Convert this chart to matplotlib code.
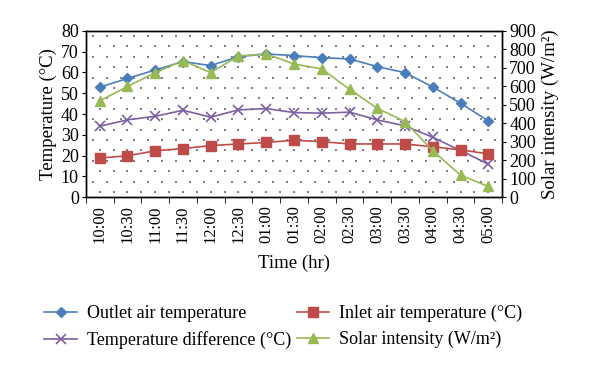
import matplotlib
matplotlib.use('Agg')
import matplotlib.pyplot as plt
import numpy as np

plt.rcParams['font.family'] = ['Liberation Serif', 'DejaVu Serif']

times = ['10:00', '10:30', '11:00', '11:30', '12:00', '12:30', '01:00', '01:30',
         '02:00', '02:30', '03:00', '03:30', '04:00', '04:30', '05:00']
outlet = [52.9, 57.1, 61.2, 65.2, 63.3, 67.6, 68.9, 68.1, 67.1, 66.5, 62.8, 59.9, 53.0, 45.2, 36.7]
inlet = [18.8, 19.9, 22.3, 23.4, 24.8, 25.6, 26.3, 27.4, 26.7, 25.6, 25.6, 25.6, 24.2, 22.8, 20.8]
difference = [34.1, 37.2, 38.9, 41.8, 38.5, 42.0, 42.6, 40.7, 40.4, 40.9, 37.2, 34.3, 28.8, 22.4, 15.9]
solar = [521, 599, 674, 739, 674, 764, 775, 721, 694, 584, 481, 409, 251, 119, 58]

fig = plt.figure(figsize=(6, 3.72), dpi=100)
ax = fig.add_axes([0.143, 0.470, 0.694, 0.447])
ax2 = ax.twinx()

# dotted pattern in the plot area (staggered rows)
n = len(times)
for i, yrow in enumerate(np.arange(2.5, 80, 5)):
    start = -0.5 if i % 2 == 0 else -0.25
    xs = np.arange(start, n - 0.5, 0.5)
    ax.scatter(xs, np.full(len(xs), yrow), s=1.2, color='#808080', marker='s',
               linewidths=0, zorder=0.5)

x = np.arange(n)
l1, = ax.plot(x, outlet, color='#4A7EBB', marker='D', markersize=5.5, lw=1.2,
              label='Outlet air temperature')
l3, = ax.plot(x, difference, color='#7D60A0', marker='x', markersize=7, mew=1.2, lw=1.2,
              label='Temperature difference (°C)')
l2, = ax.plot(x, inlet, color='#BE4B48', marker='s', markersize=7, lw=1.2,
              label='Inlet air temperature (°C)')
l4, = ax2.plot(x, solar, color='#98B954', marker='^', markersize=7, lw=1.2,
               label='Solar intensity (W/m²)')

ax.set_xlim(-0.5, n - 0.5)
ax.set_ylim(0, 80)
ax.set_yticks(np.arange(0, 81, 10))
ax2.set_ylim(0, 900)
ax2.set_yticks(np.arange(0, 901, 100))

ax.set_xticks(x)
ax.set_xticklabels(times, rotation=90)
ax.set_xticks(np.arange(-0.5, n), minor=True)
ax.tick_params(axis='x', which='major', length=0, pad=6, labelsize=12)
ax.tick_params(axis='x', which='minor', length=4, direction='out')
ax.tick_params(axis='y', length=3, direction='out', labelsize=13, pad=2)
ax2.tick_params(axis='y', length=3, direction='out', labelsize=13, pad=2)

for sp in list(ax.spines.values()) + list(ax2.spines.values()):
    sp.set_color('black')
    sp.set_linewidth(1.0)

ax.set_ylabel('Temperature (°C)', fontsize=13.5, labelpad=3)
ax2.set_ylabel('Solar intensity (W/m²)', fontsize=13.5, labelpad=4)
ax.set_xlabel('Time (hr)', fontsize=13.5, labelpad=8)

fig.legend(handles=[l1, l3, l2, l4], loc='upper left', bbox_to_anchor=(0.062, 0.2),
           ncol=2, frameon=False, fontsize=13, handlelength=1.8, columnspacing=0.3,
           labelspacing=0.5, handletextpad=0.55, borderaxespad=0)

fig.savefig('out.png', dpi=100)
